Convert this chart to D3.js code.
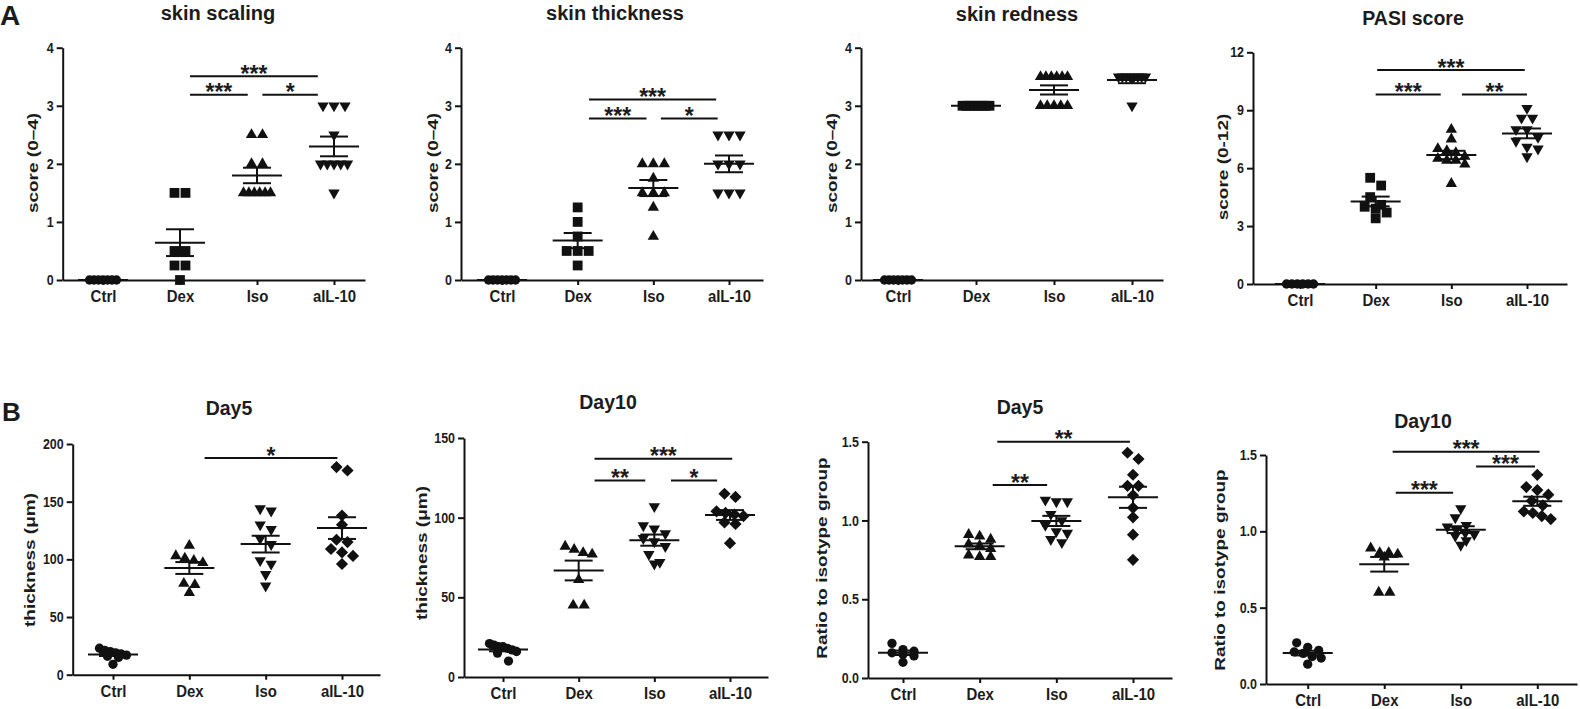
<!DOCTYPE html>
<html>
<head>
<meta charset="utf-8">
<script src="https://cdn.jsdelivr.net/npm/d3@7"></script>
<style>
  body { margin: 0; background: #fff; }
  svg text { font-family: "Liberation Sans", Arial, Helvetica, sans-serif; font-weight: bold; fill: #1c1c1c; }
</style>
</head>
<body>
<svg id="chart" width="1580" height="709"></svg>
<script>
// ---------------- DATA ----------------
const categories = ["Ctrl", "Dex", "Iso", "aIL-10"];

// Panel A: clinical scores (one array per group: Ctrl, Dex, Iso, aIL-10)
const scalingValues = [
  [0, 0, 0, 0, 0, 0, 0],
  [1.5, 1.5, 0.5, 0.5, 0.25, 0.25, 0],
  [2.5, 2.5, 2, 2, 1.5, 1.5, 1.5, 1.5, 1.5, 1.5],
  [3, 3, 3, 2.5, 2, 2, 2, 2, 2, 1.5]
];
const thicknessScoreValues = [
  [0, 0, 0, 0, 0, 0, 0],
  [1.25, 1, 0.75, 0.5, 0.5, 0.5, 0.25],
  [2, 2, 2, 1.75, 1.5, 1.5, 1.5, 1.25, 0.75],
  [2.5, 2.5, 2.5, 2, 2, 2, 1.5, 1.5, 1.5]
];
const rednessValues = [
  [0, 0, 0, 0, 0, 0, 0],
  [3, 3, 3, 3, 3, 3, 3, 3],
  [3.5, 3.5, 3.5, 3.5, 3.5, 3.5, 3, 3, 3, 3, 3],
  [3.5, 3.5, 3.5, 3.5, 3.5, 3.5, 3.5, 3.5, 3]
];
const pasiValues = [
  [0, 0, 0, 0, 0, 0],
  [5.5, 5.1, 4.5, 4.1, 4.0, 3.9, 3.7, 3.4],
  [8.0, 7.5, 7.0, 6.9, 6.8, 6.6, 6.5, 6.4, 6.4, 6.2, 5.2],
  [9.1, 8.6, 8.6, 8.0, 8.0, 7.6, 7.4, 7.1, 7.0, 6.6]
];

// Panel B: ear thickness and ratio to isotype group
const day5ThicknessValues = [
  [23, 21, 20, 19, 18, 17, 16, 15, 9],
  [112, 103, 101, 99, 97, 79, 78, 71],
  [144, 142, 130, 126, 118, 113, 99, 96, 87, 77],
  [180, 177, 138, 130, 117, 115, 109, 106, 103, 96]
];
const day10ThicknessValues = [
  [21, 20, 19, 19, 18, 17, 16, 15, 10],
  [82, 80, 78, 77, 61, 45, 45],
  [107, 95, 93, 90, 87, 85, 82, 77, 72, 71],
  [115, 113, 104, 103, 102, 101, 97, 96, 84]
];
const day5RatioValues = [
  [0.22, 0.18, 0.17, 0.16, 0.15, 0.14, 0.10],
  [0.91, 0.90, 0.88, 0.85, 0.84, 0.82, 0.78, 0.77, 0.77],
  [1.13, 1.12, 1.12, 1.04, 1.00, 0.97, 0.93, 0.92, 0.88, 0.86],
  [1.43, 1.39, 1.29, 1.22, 1.22, 1.16, 1.08, 1.02, 0.91, 0.75]
];
const day10RatioValues = [
  [0.27, 0.24, 0.22, 0.21, 0.20, 0.18, 0.17, 0.13],
  [0.89, 0.86, 0.86, 0.85, 0.83, 0.60, 0.60],
  [1.15, 1.09, 1.04, 1.03, 1.01, 0.99, 0.98, 0.97, 0.94, 0.91],
  [1.37, 1.29, 1.27, 1.24, 1.20, 1.17, 1.13, 1.12, 1.10, 1.08]
];

// Tick values
const scoreTicks = [0, 1, 2, 3, 4];
const pasiTicks = [0, 3, 6, 9, 12];
const day5ThicknessTicks = [0, 50, 100, 150, 200];
const day10ThicknessTicks = [0, 50, 100, 150];
const ratioTicks = [0, 0.5, 1.0, 1.5];

// Significance brackets (from/to in category units, level in data units)
const sigScaling = [
  { from: 1.13, to: 2.79, level: 3.51, label: "***" },
  { from: 1.13, to: 1.88, level: 3.19, label: "***" },
  { from: 2.07, to: 2.79, level: 3.19, label: "*" }
];
const sigThicknessScore = [
  { from: 1.15, to: 2.83, level: 3.11, label: "***" },
  { from: 1.15, to: 1.91, level: 2.78, label: "***" },
  { from: 2.10, to: 2.85, level: 2.78, label: "*" }
];
const sigRedness = [];
const sigPasi = [
  { from: 1.02, to: 2.97, level: 11.08, label: "***" },
  { from: 1.00, to: 1.86, level: 9.82, label: "***" },
  { from: 2.14, to: 3.00, level: 9.82, label: "**" }
];
const sigDay5Thickness = [
  { from: 1.20, to: 2.94, level: 187.8, label: "*" }
];
const sigDay10Thickness = [
  { from: 1.21, to: 3.03, level: 137, label: "***" },
  { from: 1.21, to: 1.88, level: 123.3, label: "**" },
  { from: 2.22, to: 2.83, level: 123.3, label: "*" }
];
const sigDay5Ratio = [
  { from: 1.23, to: 2.96, level: 1.50, label: "**" },
  { from: 1.17, to: 1.88, level: 1.225, label: "**" }
];
const sigDay10Ratio = [
  { from: 1.11, to: 3.03, level: 1.522, label: "***" },
  { from: 1.15, to: 1.90, level: 1.253, label: "***" },
  { from: 2.20, to: 2.97, level: 1.424, label: "***" }
];

const panelTitles = ["skin scaling", "skin thickness", "skin redness", "PASI score", "Day5", "Day10", "Day5", "Day10"];
const yAxisTitles = ["score (0–4)", "score (0–4)", "score (0–4)", "score (0-12)",
  "thickness (μm)", "thickness (μm)", "Ratio to isotype group", "Ratio to isotype group"];

// ---------------- LAYOUT ----------------
const layout = [
  { left: 62.7, x0: 103, x3: 334, right: 365, top: 47.7, bottom: 280, tx: 218, ty: 19.5, tsize: 20, lx: 33, ly: 163 },
  { left: 461, x0: 502, x3: 729, right: 763, top: 47.7, bottom: 280, tx: 615, ty: 19.5, tsize: 20, lx: 433, ly: 163 },
  { left: 861, x0: 898, x3: 1132, right: 1163, top: 47.7, bottom: 280, tx: 1017, ty: 20.5, tsize: 20, lx: 832, ly: 163 },
  { left: 1253, x0: 1300, x3: 1527, right: 1567, top: 52.3, bottom: 284, tx: 1413, ty: 25, tsize: 19.5, lx: 1223, ly: 167 },
  { left: 72.7, x0: 113, x3: 342, right: 380, top: 444, bottom: 674.7, tx: 229, ty: 415, tsize: 19.5, lx: 30, ly: 560 },
  { left: 464, x0: 503, x3: 730, right: 768, top: 438, bottom: 677, tx: 608, ty: 408.5, tsize: 19.5, lx: 422, ly: 553 },
  { left: 868, x0: 903, x3: 1133, right: 1172, top: 441.7, bottom: 678, tx: 1020, ty: 413.5, tsize: 19.5, lx: 822, ly: 558 },
  { left: 1266, x0: 1307.7, x3: 1537.3, right: 1577, top: 455, bottom: 684, tx: 1423, ty: 428, tsize: 19.5, lx: 1220, ly: 570 }
];

const symbolsA = ["circle", "square", "triangle", "triangleDown"];
const symbolsB = ["circle", "triangle", "triangleDown", "diamond"];

const INK = "#111";
const svg = d3.select("#chart");
svg.append("rect").attr("width", 1580).attr("height", 709).attr("fill", "#fff");

function symbolPath(name) {
  if (name === "circle") return d3.symbol(d3.symbolCircle, 68)();
  if (name === "square") return d3.symbol(d3.symbolSquare, 96)();
  if (name === "diamond") return d3.symbol(d3.symbolSquare, 74)();
  return d3.symbol(d3.symbolTriangle, 56)();
}
function symbolRotation(name) {
  if (name === "triangleDown") return " rotate(180)";
  if (name === "diamond") return " rotate(45)";
  return "";
}

// Spread points of near-equal value horizontally (GraphPad-like scatter)
function spread(vals, y) {
  const step = 11, maxSpread = 27, thr = 8;
  const pts = vals.map(v => ({ v, py: y(v) })).sort((a, b) => a.py - b.py);
  const rows = [];
  pts.forEach(p => {
    const r = rows[rows.length - 1];
    if (r && Math.abs(p.py - r[0].py) < thr) r.push(p); else rows.push([p]);
  });
  rows.forEach(r => {
    const n = r.length;
    const s = n > 1 ? Math.min(step, maxSpread / (n - 1)) : 0;
    r.forEach((p, i) => { p.dx = (i - (n - 1) / 2) * s; });
  });
  return pts;
}

function squeeze(sel, sx) {
  sel.each(function () {
    const t = d3.select(this);
    const x = +t.attr("x") || 0;
    t.attr("transform", `translate(${x},0) scale(${sx},1) translate(${-x},0)`);
  });
}

function drawPanel(i, values, ticks, sig, fmt, symbols) {
  const L = layout[i];
  const g = svg.append("g");
  const y = d3.scaleLinear().domain([0, d3.max(ticks)]).range([L.bottom, L.top]);
  const x = d3.scaleLinear().domain([0, 3]).range([L.x0, L.x3]);
  const xAxisScale = d3.scaleLinear().domain([x.invert(L.left), x.invert(L.right)]).range([L.left, L.right]);

  // axes
  const gx = g.append("g").attr("transform", `translate(0,${L.bottom})`)
    .call(d3.axisBottom(xAxisScale).tickValues([0, 1, 2, 3]).tickFormat(d => categories[d])
      .tickSize(5).tickSizeOuter(0).tickPadding(5));
  const gy = g.append("g").attr("transform", `translate(${L.left},0)`)
    .call(d3.axisLeft(y).tickValues(ticks).tickFormat(fmt).tickSize(6).tickSizeOuter(0).tickPadding(3));
  [gx, gy].forEach(a => {
    a.select(".domain").attr("stroke", INK).attr("stroke-width", 2);
    a.selectAll(".tick line").attr("stroke", INK).attr("stroke-width", 2);
  });
  gx.selectAll(".tick text").style("font-size", "17px").attr("fill", "#1c1c1c");
  squeeze(gx.selectAll(".tick text"), 0.88);
  gy.selectAll(".tick text").style("font-size", "14.5px").attr("fill", "#1c1c1c");
  squeeze(gy.selectAll(".tick text"), 0.86);

  // points (drawn over the axes, as in the original)
  values.forEach((vals, ci) => {
    const pts = spread(vals, y);
    const sym = symbols[ci];
    g.append("g").selectAll("path").data(pts).join("path")
      .attr("d", symbolPath(sym))
      .attr("transform", p => `translate(${x(ci) + p.dx},${p.py})` + symbolRotation(sym))
      .attr("fill", INK);
  });

  // mean and SEM
  values.forEach((vals, ci) => {
    const m = d3.mean(vals);
    const sem = vals.length > 1 ? (d3.deviation(vals) || 0) / Math.sqrt(vals.length) : 0;
    const cx = x(ci);
    const eg = g.append("g").attr("stroke", INK).attr("stroke-width", 2);
    eg.append("line").attr("x1", cx - 25).attr("x2", cx + 25).attr("y1", y(m)).attr("y2", y(m));
    if (sem > 0) {
      eg.append("line").attr("x1", cx).attr("x2", cx).attr("y1", y(m - sem)).attr("y2", y(m + sem));
      [m - sem, m + sem].forEach(v => {
        eg.append("line").attr("x1", cx - 14).attr("x2", cx + 14).attr("y1", y(v)).attr("y2", y(v));
      });
    }
  });

  // significance brackets
  sig.forEach(s => {
    const yy = y(s.level);
    g.append("line").attr("x1", x(s.from)).attr("x2", x(s.to)).attr("y1", yy).attr("y2", yy)
      .attr("stroke", INK).attr("stroke-width", 2);
    g.append("text").attr("x", (x(s.from) + x(s.to)) / 2).attr("y", yy + 5.5)
      .attr("text-anchor", "middle").style("font-size", "23px").text(s.label);
  });

  // title
  g.append("text").attr("x", L.tx).attr("y", L.ty).attr("text-anchor", "middle")
    .style("font-size", L.tsize + "px").text(panelTitles[i]);

  // y axis title
  g.append("text")
    .attr("transform", `translate(${L.lx},${L.ly}) scale(0.8,1) rotate(-90)`)
    .attr("text-anchor", "middle").attr("dominant-baseline", "central")
    .style("font-size", "19px").text(yAxisTitles[i]);
}

const fmtInt = d3.format("d");
const fmtOne = d3.format(".1f");

drawPanel(0, scalingValues, scoreTicks, sigScaling, fmtInt, symbolsA);
drawPanel(1, thicknessScoreValues, scoreTicks, sigThicknessScore, fmtInt, symbolsA);
drawPanel(2, rednessValues, scoreTicks, sigRedness, fmtInt, symbolsA);
drawPanel(3, pasiValues, pasiTicks, sigPasi, fmtInt, symbolsA);
drawPanel(4, day5ThicknessValues, day5ThicknessTicks, sigDay5Thickness, fmtInt, symbolsB);
drawPanel(5, day10ThicknessValues, day10ThicknessTicks, sigDay10Thickness, fmtInt, symbolsB);
drawPanel(6, day5RatioValues, ratioTicks, sigDay5Ratio, fmtOne, symbolsB);
drawPanel(7, day10RatioValues, ratioTicks, sigDay10Ratio, fmtOne, symbolsB);

// panel letters
svg.append("text").attr("x", 0).attr("y", 25).style("font-size", "28px").text("A");
svg.append("text").attr("x", 2).attr("y", 421).style("font-size", "26px").text("B");
</script>
</body>
</html>
